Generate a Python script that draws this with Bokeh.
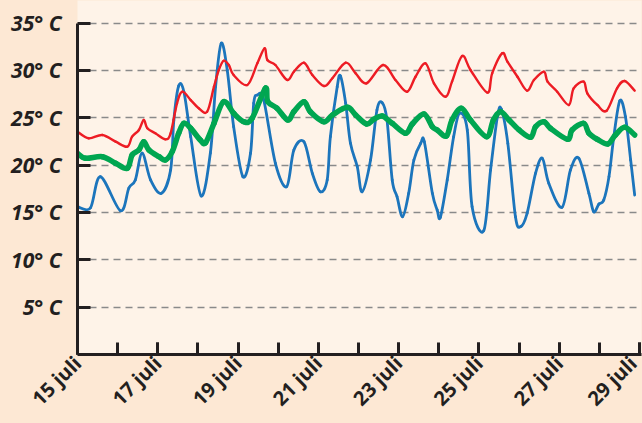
import math
from bokeh.plotting import figure
from bokeh.models import Range1d, FixedTicker, ColumnDataSource
from bokeh.embed import file_html
from bokeh.resources import INLINE

# ---- tick values / labels ----
day_ticks = [15, 17, 19, 21, 23, 25, 27, 29]
day_labels = ["15 juli", "17 juli", "19 juli", "21 juli", "23 juli", "25 juli", "27 juli", "29 juli"]
all_days = list(range(15, 30))
temp_ticks = [5, 10, 15, 20, 25, 30, 35]
temp_labels = ["5° C", "10° C", "15° C", "20° C", "25° C", "30° C", "35° C"]

# ---- blue series ----
blue_days = [15.0, 15.32, 15.57, 16.07, 16.28, 16.44, 16.61, 16.82, 17.09, 17.32, 17.40, 17.52, 17.65,
             17.82, 18.08, 18.31, 18.44, 18.58, 18.73, 18.89, 19.12, 19.31, 19.39, 19.48, 19.64, 19.93,
             20.21, 20.39, 20.64, 20.85, 21.05, 21.22, 21.30, 21.47, 21.55, 21.68, 21.80, 21.97, 22.09,
             22.30, 22.46, 22.59, 22.71, 22.84, 22.96, 23.10, 23.25, 23.38, 23.55, 23.64, 23.84, 23.96,
             24.04, 24.21, 24.37, 24.52, 24.71, 24.83, 25.12, 25.29, 25.46, 25.56, 25.72, 25.91, 26.04,
             26.20, 26.41, 26.58, 26.74, 27.07, 27.28, 27.49, 27.74, 27.86, 27.99, 28.11, 28.24, 28.36,
             28.51, 28.65, 28.78, 28.88]
blue_temp = [15.6, 15.47, 18.77, 15.18, 17.58, 18.43, 21.25, 18.43, 17.02, 19.48, 24.76, 28.35, 27.75,
             23.0, 16.74, 21.28, 28.28, 32.86, 30.04, 24.05, 18.78, 21.25, 26.53, 27.40, 26.87, 20.19,
             17.72, 21.59, 22.47, 19.13, 17.19, 18.43, 23.0, 28.28, 29.41, 26.53, 22.30, 19.83, 17.19,
             20.54, 25.82, 26.59, 24.76, 18.43, 16.66, 14.55, 17.02, 20.54, 22.30, 22.47, 17.02, 15.26,
             14.49, 18.43, 23.0, 25.47, 23.71, 15.61, 13.07, 19.48, 25.11, 25.89, 22.30, 14.55, 13.5,
             14.91, 19.13, 20.72, 18.08, 15.54, 19.48, 20.72, 17.02, 15.08, 15.89, 16.31, 18.78, 23.0,
             26.80, 25.11, 20.54, 16.84]

# ---- red series ----
red_days = [15.0, 15.28, 15.62, 15.95, 16.24, 16.36, 16.53, 16.65, 16.74, 16.94, 17.19, 17.32, 17.48,
            17.61, 17.82, 18.02, 18.23, 18.40, 18.52, 18.64, 18.77, 18.89, 19.23, 19.48, 19.66, 19.73,
            19.93, 20.22, 20.39, 20.64, 20.85, 21.14, 21.35, 21.68, 21.93, 22.20, 22.61, 22.92, 23.21,
            23.42, 23.67, 23.88, 24.17, 24.33, 24.58, 24.79, 25.21, 25.33, 25.58, 25.71, 25.96, 26.20,
            26.37, 26.62, 26.71, 26.95, 27.24, 27.36, 27.61, 27.70, 27.95, 28.18, 28.44, 28.63, 28.88]
red_temp = [23.53, 22.83, 23.18, 22.47, 21.94, 23.0, 23.71, 24.76, 23.89, 23.36, 22.72, 23.36, 26.53,
            27.75, 26.87, 26.0, 25.64, 28.28, 30.04, 31.02, 30.57, 29.51, 28.46, 30.75, 32.33, 31.10,
            30.57, 28.99, 29.86, 30.81, 29.51, 28.35, 29.17, 30.81, 29.69, 28.64, 30.57, 28.99, 27.75,
            29.33, 30.75, 28.64, 27.22, 28.81, 31.52, 30.04, 27.65, 29.69, 31.81, 30.92, 29.33, 27.86,
            28.99, 29.86, 28.81, 27.75, 26.35, 28.11, 28.81, 27.58, 26.35, 25.74, 28.11, 28.88, 27.86]

# ---- green series ----
green_days = [15.0, 15.20, 15.62, 15.95, 16.24, 16.36, 16.53, 16.65, 16.78, 17.03, 17.19, 17.36, 17.52,
              17.65, 17.82, 18.06, 18.19, 18.40, 18.64, 18.89, 19.14, 19.35, 19.68, 19.74, 19.97, 20.24,
              20.39, 20.64, 20.80, 21.14, 21.35, 21.72, 21.93, 22.20, 22.38, 22.59, 22.84, 23.17, 23.34,
              23.63, 23.84, 23.96, 24.19, 24.33, 24.56, 24.79, 25.19, 25.36, 25.54, 25.75, 26.0, 26.29,
              26.41, 26.62, 26.78, 27.21, 27.32, 27.61, 27.74, 27.95, 28.21, 28.40, 28.63, 28.88]
green_temp = [21.25, 20.72, 20.89, 20.19, 19.66, 21.07, 21.59, 22.47, 21.59, 20.89, 20.54, 21.42, 23.36,
              24.41, 23.89, 22.65, 22.37, 24.41, 26.70, 25.47, 24.58, 24.94, 28.11, 26.70, 26.0, 24.76,
              25.64, 26.70, 25.64, 24.58, 25.29, 26.10, 25.29, 24.34, 24.84, 25.18, 24.41, 23.36, 24.34,
              25.40, 24.05, 23.71, 23.07, 24.76, 26.0, 24.76, 23.0, 24.76, 25.64, 24.76, 23.71, 22.94,
              24.05, 24.58, 23.89, 22.72, 23.71, 24.41, 23.36, 22.72, 22.23, 23.18, 23.99, 23.18]

OUTER = "#fde8d4"
INNER = "#fef3e8"
DARK = "#231f20"


def smooth_source(xs, ys):
    """Catmull-Rom style bezier segments passing through the read points."""
    n = len(xs)
    d = dict(x0=[], y0=[], x1=[], y1=[], cx0=[], cy0=[], cx1=[], cy1=[])
    for i in range(n - 1):
        a = max(i - 1, 0)
        b = min(i + 2, n - 1)
        d["x0"].append(xs[i]); d["y0"].append(ys[i])
        d["x1"].append(xs[i + 1]); d["y1"].append(ys[i + 1])
        d["cx0"].append(xs[i] + (xs[i + 1] - xs[a]) / 6.0)
        d["cy0"].append(ys[i] + (ys[i + 1] - ys[a]) / 6.0)
        d["cx1"].append(xs[i + 1] - (xs[b] - xs[i]) / 6.0)
        d["cy1"].append(ys[i + 1] - (ys[b] - ys[i]) / 6.0)
    return ColumnDataSource(d)


p = figure(width=642, height=423, output_backend="svg", toolbar_location=None,
           x_range=Range1d(15, 29.05), y_range=Range1d(0, 37.38),
           min_border_left=77, min_border_right=1, min_border_top=0, min_border_bottom=69)
p.background_fill_color = INNER
p.border_fill_color = OUTER
p.outline_line_color = None

p.xgrid.visible = False
p.ygrid.ticker = FixedTicker(ticks=temp_ticks)
p.ygrid.grid_line_color = "#8a8a8a"
p.ygrid.grid_line_dash = "7 5"
p.ygrid.grid_line_width = 1.5

# lines (smooth curves through the read points)
for xs, ys, col, w in [(blue_days, blue_temp, "#1c75bc", 2.8),
                       (red_days, red_temp, "#ed1c24", 2.4),
                       (green_days, green_temp, "#00a651", 5.5)]:
    p.bezier(x0="x0", y0="y0", x1="x1", y1="y1", cx0="cx0", cy0="cy0", cx1="cx1", cy1="cy1",
             source=smooth_source(xs, ys), line_color=col, line_width=w, line_cap="round")

# y axis
ya = p.yaxis[0]
ya.ticker = FixedTicker(ticks=temp_ticks)
ya.major_label_overrides = dict(zip(temp_ticks, temp_labels))
ya.bounds = (0, 35)
ya.axis_line_width = 3
ya.axis_line_color = DARK
ya.major_tick_in = 13
ya.major_tick_out = 0
ya.major_tick_line_width = 3
ya.major_tick_line_color = DARK
ya.minor_tick_line_color = None
ya.major_label_text_font = "Open Sans"
ya.major_label_text_font_style = "bold italic"
ya.major_label_text_font_size = "21px"
ya.major_label_text_color = DARK
ya.major_label_standoff = 16

# x axis
xa = p.xaxis[0]
xa.ticker = FixedTicker(ticks=day_ticks, minor_ticks=all_days)
xa.major_label_overrides = dict(zip(day_ticks, day_labels))
xa.major_label_orientation = math.pi / 4
xa.axis_line_width = 3
xa.axis_line_color = DARK
xa.major_tick_in = 12
xa.major_tick_out = 0
xa.major_tick_line_width = 3
xa.major_tick_line_color = DARK
xa.minor_tick_in = 12
xa.minor_tick_out = 0
xa.minor_tick_line_width = 3
xa.minor_tick_line_color = DARK
xa.major_label_text_font = "Open Sans"
xa.major_label_text_font_style = "bold"
xa.major_label_text_font_size = "20px"
xa.major_label_text_color = DARK
xa.major_label_standoff = 5

html = file_html(p, INLINE)
html = html.replace("</head>",
                    "<style>html,body{margin:0!important;padding:0;overflow:hidden;background:%s;}</style></head>" % OUTER, 1)
open("out.html", "w").write(html)
